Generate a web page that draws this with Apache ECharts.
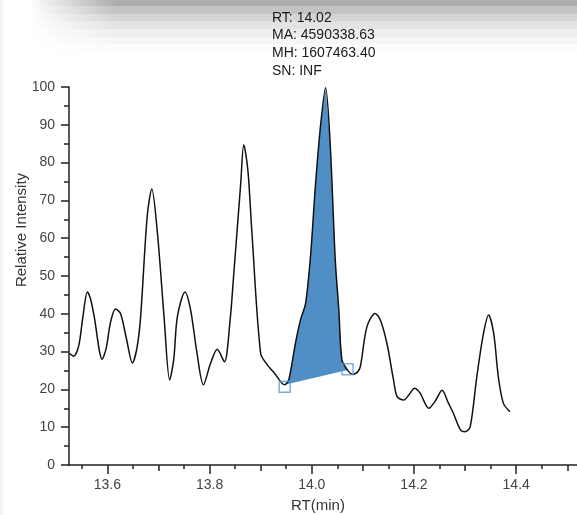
<!DOCTYPE html>
<html>
<head>
<meta charset="utf-8">
<script src="https://cdn.jsdelivr.net/npm/echarts@6/dist/echarts.min.js"></script>
<style>html,body{margin:0;padding:0;background:#fff;}#c{width:577px;height:515px;}</style>
</head>
<body>
<div id="c"></div>
<script>
// Retention time (min)
var rt = [13.526,13.534,13.544,13.552,13.561,13.567,13.574,13.590,13.598,13.606,13.616,13.626,13.638,13.649,13.658,13.665,13.678,13.687,13.698,13.711,13.722,13.730,13.737,13.752,13.763,13.775,13.788,13.802,13.815,13.829,13.840,13.847,13.861,13.867,13.875,13.883,13.900,13.913,13.926,13.947,13.955,13.968,13.978,13.988,13.998,14.007,14.017,14.027,14.036,14.046,14.053,14.059,14.070,14.080,14.089,14.095,14.108,14.124,14.134,14.147,14.160,14.167,14.180,14.190,14.201,14.212,14.229,14.242,14.255,14.267,14.277,14.291,14.300,14.310,14.323,14.336,14.346,14.356,14.365,14.375,14.388];
// Relative intensity
var intensity = [29.5,28.8,31.5,39,45.8,44,39.5,28,31,37.6,41.3,40,33,27,31,39,65.7,73,61.4,39.2,22.5,28,39.2,45.8,41,30,21.2,26.9,30.6,27.3,38,49.8,74.5,84.7,78,61.3,29.5,26.5,24.5,21.2,22.5,32.2,38.4,42.8,56,73.6,89.5,99.8,85.1,54.2,41,27.8,25.1,24.0,24.5,26,36.6,40.1,38.4,32.2,22.5,18.1,17.2,18.5,20.3,19,15,17,19.8,16.5,13.7,9.3,8.8,10.1,23.4,34.8,39.7,34.8,23.4,16.3,14.1];
// integrated peak boundaries
var peakStartRT = 13.947, peakEndRT = 14.070;
var markerRT = [13.947, 14.070];
var markerVal = [20.7, 25.3];
// tick labels
var xLabelValues = [13.6, 13.8, 14.0, 14.2, 14.4];
var xMidTicks = [13.7, 13.9, 14.1, 14.3, 14.5];
var xMinorTicks = [13.55, 13.65, 13.75, 13.85, 13.95, 14.05, 14.15, 14.25, 14.35, 14.45];
var annotation = ['RT: 14.02', 'MA: 4590338.63', 'MH: 1607463.40', 'SN: INF'];

var curve = rt.map(function (t, i) { return [t, intensity[i]]; });
var peakPts = curve.filter(function (p) { return p[0] >= peakStartRT - 1e-9 && p[0] <= peakEndRT + 1e-9; });
var markers = markerRT.map(function (t, i) { return [t, markerVal[i]]; });

var FONT = '"Liberation Sans", Arial, sans-serif';
var XMIN = 13.525, XMAX = 14.519;

var bands = [[0,6,'#adadad'],[6,14,'#c3c3c3'],[14,21,'#d5d5d5'],[21,29,'#e3e3e3'],[29,37,'#eeeeee'],[37,44,'#f6f6f6'],[44,53,'#fcfcfc']];
var graphics = bands.map(function (b) {
  return { type: 'rect', z: -10, shape: { x: 0, y: b[0], width: 577, height: b[1] - b[0] },
    style: { fill: { type: 'linear', x: 0, y: 0, x2: 1, y2: 0, colorStops: [
      { offset: 0, color: '#ffffff' }, { offset: 0.05, color: '#ffffff' }, { offset: 0.2, color: b[2] }, { offset: 1, color: b[2] } ] } } };
});
graphics.push({ type: 'rect', z: -9, shape: { x: 0, y: 0, width: 3, height: 515 }, style: { fill: '#f1f6fc' } });
annotation.forEach(function (s, i) {
  graphics.push({ type: 'text', x: 272, y: 18 + i * 17.6, style: { text: s, font: '14px ' + FONT, fill: '#1a1a1a', textVerticalAlign: 'middle' } });
});
graphics.push({ type: 'text', x: 22, y: 230, rotation: Math.PI / 2, style: { text: 'Relative Intensity', font: '15px ' + FONT, fill: '#333', textAlign: 'center', textVerticalAlign: 'middle' } });
graphics.push({ type: 'text', x: 318, y: 506, style: { text: 'RT(min)', font: '15px ' + FONT, fill: '#333', textAlign: 'center', textVerticalAlign: 'middle' } });

function xa(extra) {
  var base = { type: 'value', min: XMIN, max: XMAX, position: 'bottom', splitLine: { show: false },
    axisLine: { show: false }, axisLabel: { show: false }, axisTick: { show: false } };
  for (var k in extra) base[k] = extra[k];
  return base;
}

var chart = echarts.init(document.getElementById('c'), null, { renderer: 'canvas' });
chart.setOption({
  animation: false,
  backgroundColor: '#ffffff',
  graphic: graphics,
  grid: { left: 69, right: 0, top: 87, bottom: 50 },
  xAxis: [
    xa({ axisLine: { show: true, onZero: false, lineStyle: { color: '#222', width: 1.5 } },
      axisTick: { show: true, length: 9, customValues: xLabelValues, lineStyle: { color: '#222', width: 1.5 } },
      axisLabel: { show: true, customValues: xLabelValues, margin: 13, color: '#444', fontSize: 14, fontFamily: FONT,
        formatter: function (v) { return v.toFixed(1); } } }),
    xa({ axisTick: { show: true, length: 6, customValues: xMidTicks, lineStyle: { color: '#222', width: 1.5 } } }),
    xa({ axisTick: { show: true, length: 4, customValues: xMinorTicks, lineStyle: { color: '#222', width: 1.5 } } })
  ],
  yAxis: {
    type: 'value', min: 0, max: 100, interval: 10, splitLine: { show: false },
    axisLine: { show: true, lineStyle: { color: '#222', width: 1.5 } },
    axisTick: { show: true, length: 8, lineStyle: { color: '#222', width: 1.5 } },
    minorTick: { show: true, splitNumber: 2, length: 5, lineStyle: { color: '#222', width: 1.5 } },
    axisLabel: { margin: 14, color: '#444', fontSize: 14, fontFamily: FONT }
  },
  series: [
    { type: 'custom', xAxisIndex: 0, data: [[peakStartRT, 0]], z: 1, clip: false,
      renderItem: function (params, api) {
        var pts = peakPts.map(function (p) { return api.coord(p); });
        return { type: 'polygon', shape: { points: pts }, style: { fill: '#4f8fc6' } };
      } },
    { type: 'line', xAxisIndex: 0, data: curve, showSymbol: false, smooth: 0.3, z: 2,
      lineStyle: { color: '#111', width: 1.5 } },
    { type: 'scatter', xAxisIndex: 0, data: markers, symbol: 'rect', symbolSize: 11, z: 3,
      itemStyle: { color: 'rgba(255,255,255,0)', borderColor: '#5b9bd5', borderWidth: 1.5 } }
  ]
});
</script>
</body>
</html>
